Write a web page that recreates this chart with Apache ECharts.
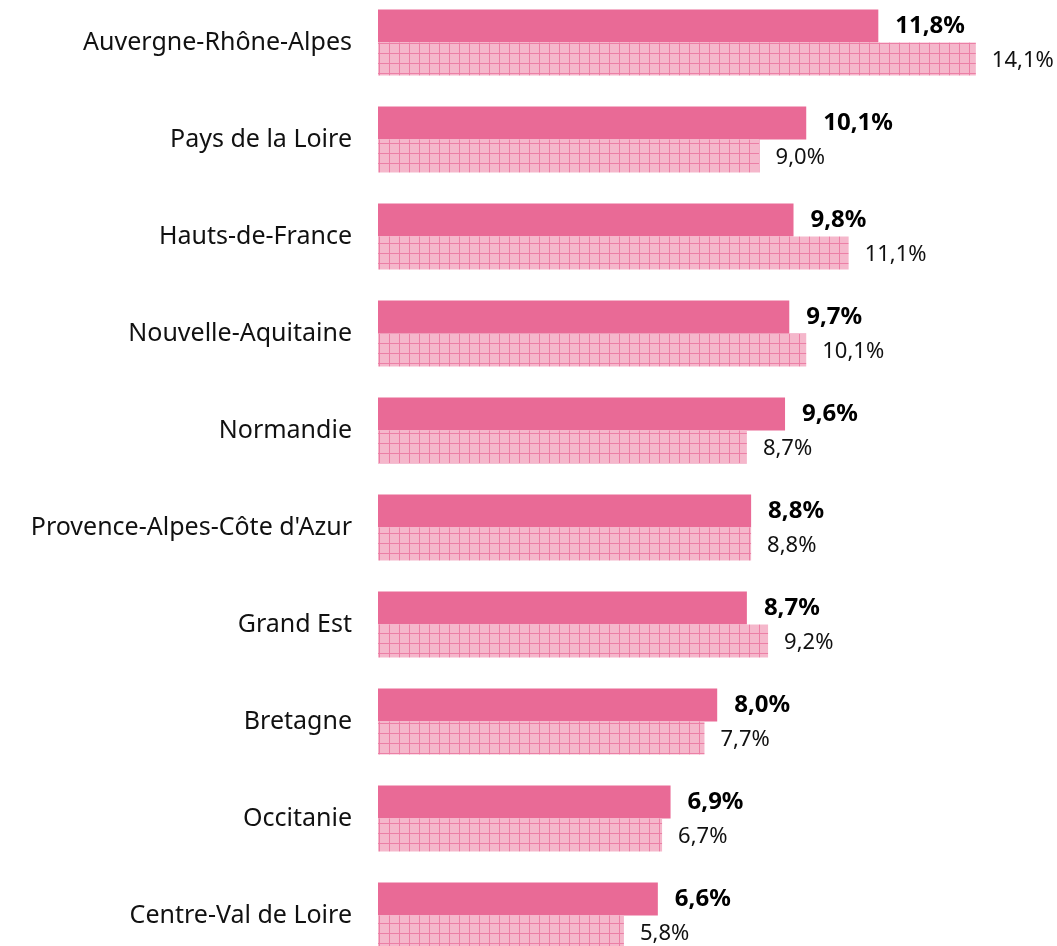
<!doctype html>
<html>
<head>
  <meta charset="utf-8">
  <title>Régions</title>
  <script src="https://cdn.jsdelivr.net/npm/echarts@6/dist/echarts.min.js"></script>
  <style>
    html, body { margin: 0; padding: 0; background: #fff; overflow: hidden; }
    #main { position: absolute; left: 0; top: -6.5px; width: 1057px; height: 970px; }
  </style>
</head>
<body>
  <div id="main"></div>
<script>
var regions = ['Auvergne-Rhône-Alpes', 'Pays de la Loire', 'Hauts-de-France', 'Nouvelle-Aquitaine',
  'Normandie', "Provence-Alpes-Côte d'Azur", 'Grand Est', 'Bretagne', 'Occitanie', 'Centre-Val de Loire'];
var valuesA = [11.8, 10.1, 9.8, 9.7, 9.6, 8.8, 8.7, 8.0, 6.9, 6.6];
var valuesB = [14.1, 9.0, 11.1, 10.1, 8.7, 8.8, 9.2, 7.7, 6.7, 5.8];

function fmt(v) {
  return v.toFixed(1).replace('.', ',') + '%';
}

// grille rose pour la seconde série
var tile = document.createElement('canvas');
tile.width = 10; tile.height = 10;
var ctx = tile.getContext('2d');
ctx.fillStyle = '#f5b7cb';
ctx.fillRect(0, 0, 10, 10);
ctx.fillStyle = '#ec7fa6';
ctx.fillRect(9, 0, 1, 10);
ctx.fillRect(0, 9, 10, 1);

var font = '"Noto Sans", sans-serif';
var myChart = echarts.init(document.getElementById('main'));
var option = {
  animation: false,
  grid: { left: 378, top: 0, width: 636, height: 970 },
  xAxis: {
    type: 'value', min: 0, max: 15, show: false
  },
  yAxis: {
    type: 'category', data: regions, inverse: true,
    axisLine: { show: false }, axisTick: { show: false },
    axisLabel: { margin: 26, fontSize: 25, color: '#111', fontFamily: font }
  },
  series: [{
    type: 'bar', data: valuesA, barWidth: 33, barGap: '0%',
    itemStyle: { color: '#e96a96' },
    label: {
      show: true, position: 'right', distance: 17,
      formatter: function (p) { return fmt(p.value); },
      fontSize: 24, fontWeight: 'bold', color: '#000', fontFamily: font
    }
  }, {
    type: 'bar', data: valuesB, barWidth: 33, barGap: '0%',
    itemStyle: { color: { image: tile, repeat: 'repeat' } },
    label: {
      show: true, position: 'right', distance: 16, offset: [0, 2],
      formatter: function (p) { return fmt(p.value); },
      fontSize: 22, color: '#111', fontFamily: font
    }
  }]
};
myChart.setOption(option);
</script>
</body>
</html>
